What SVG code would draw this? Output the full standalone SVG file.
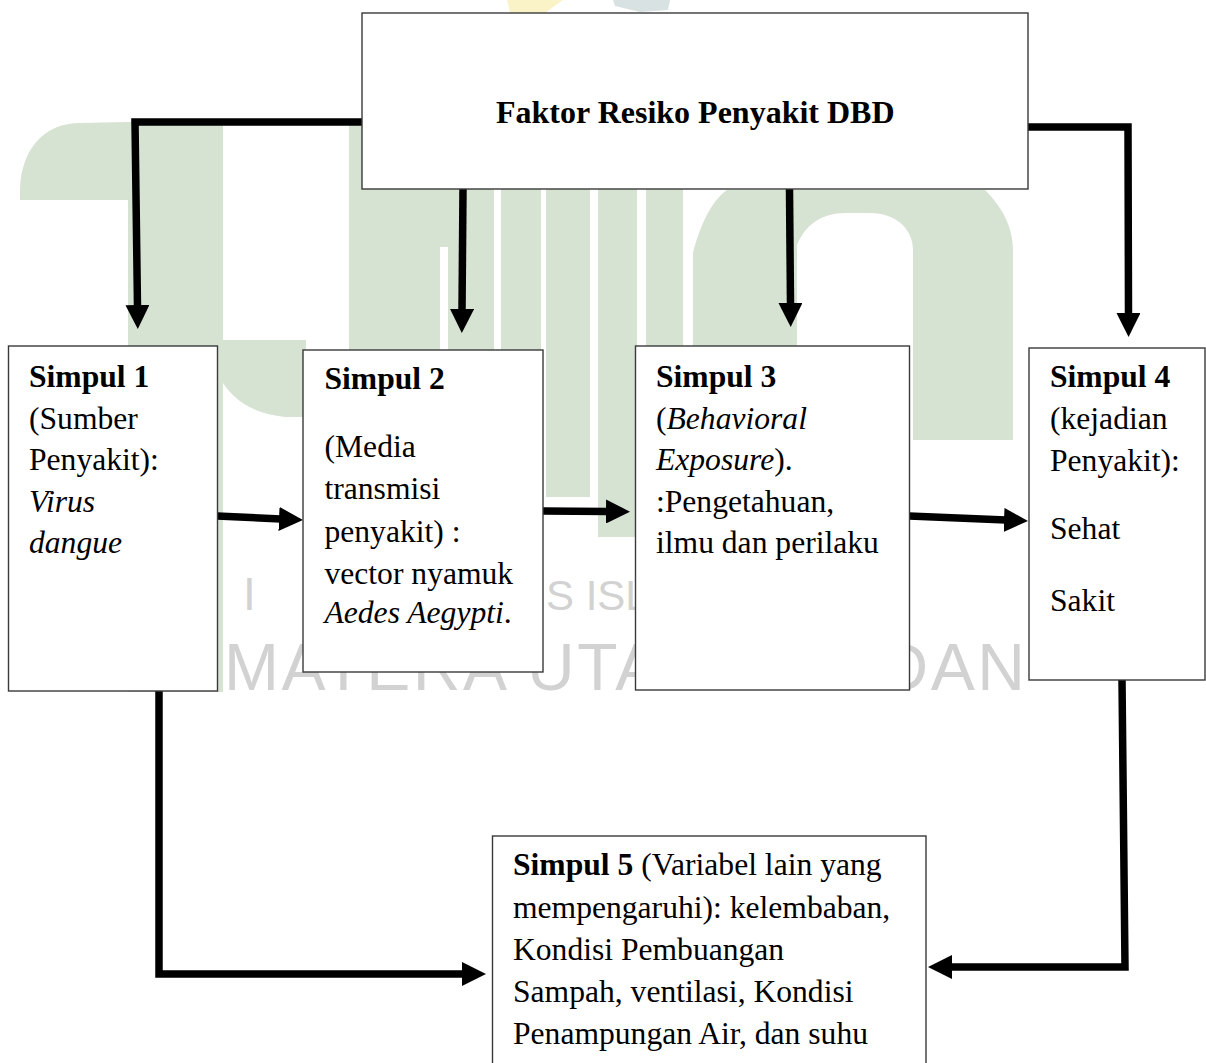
<svg xmlns="http://www.w3.org/2000/svg" width="1206" height="1063" viewBox="0 0 1206 1063">
<style>
.wm{fill:#d6e3d3;stroke:none}
.wmt{font-family:"Liberation Sans",Arial,sans-serif;fill:#d2d2d2}
.box{fill:#ffffff;stroke:#3a3a3a;stroke-width:1.4}
.t{font-family:"Liberation Serif","Times New Roman",serif;font-size:31.6px;fill:#000}
.b{font-weight:bold}
.i{font-style:italic}
.title{font-family:"Liberation Serif","Times New Roman",serif;font-size:32px;font-weight:bold;fill:#000}
.con{fill:none;stroke:#000;stroke-width:7.5;stroke-linejoin:miter;stroke-linecap:butt}
</style>
<defs>
<marker id="ah" markerUnits="userSpaceOnUse" markerWidth="24" markerHeight="24" refX="2" refY="12" orient="auto">
<path d="M0,0 L24,12 L0,24 Z" fill="#000"/>
</marker>
</defs>
<rect width="1206" height="1063" fill="#ffffff"/>
<g id="watermark">
<path class="wm" d="M20,200 L20,188 C22,148 45,123 80,123 L128,122 L128,200 Z"/>
<rect class="wm" x="128" y="122" width="95" height="570"/>
<path class="wm" d="M217,340 L306,340 L306,417 L285,417 Q235,412 217,372 Z"/>
<rect class="wm" x="349" y="122" width="91" height="300"/>
<rect class="wm" x="440" y="189" width="8" height="58"/>
<rect class="wm" x="448" y="189" width="46" height="220"/>
<rect class="wm" x="501" y="189" width="40" height="220"/>
<rect class="wm" x="546" y="189" width="44" height="308"/>
<rect class="wm" x="598" y="189" width="39" height="348"/>
<rect class="wm" x="646" y="189" width="37" height="300"/>
<path class="wm" d="M693,690 L693,253 C700,225 712,200 727,190 L985,190 C1000,205 1013,225 1013,250 L1013,440 L913,440 L913,250 C913,228 895,213 870,213 L845,213 C822,213 805,225 797,245 L797,690 Z"/>
<path d="M507,0 L563,0 L545,13 L510,13 Z" fill="#fbf3c8"/>
<path d="M613,0 L670,0 L668,10 L640,12 L615,6 Z" fill="#d9e2e2"/>
<text class="wmt" x="243" y="610" font-size="46">I</text>
<text class="wmt" x="546" y="610" font-size="42">S ISLAM NEGERI</text>
<text class="wmt" x="127" y="690" font-size="66" textLength="898" lengthAdjust="spacing">SUMATERA UTARA MEDAN</text>
</g>
<g id="connectors">
<polyline class="con" points="362,122 135,122 137.5,307" marker-end="url(#ah)"/>
<polyline class="con" points="463,189 462,311" marker-end="url(#ah)"/>
<polyline class="con" points="789.5,189 790.5,305" marker-end="url(#ah)"/>
<polyline class="con" points="1028,127 1128,127 1128.5,315" marker-end="url(#ah)"/>
<polyline class="con" points="217,516 281,519" marker-end="url(#ah)"/>
<polyline class="con" points="543,511 608,511.5" marker-end="url(#ah)"/>
<polyline class="con" points="909,516 1006,520" marker-end="url(#ah)"/>
<polyline class="con" points="159,691 159,974 464,974" marker-end="url(#ah)"/>
<polyline class="con" points="1122,680 1125,967 950,967" marker-end="url(#ah)"/>
</g>
<g id="faktor">
<rect class="box" x="362" y="13" width="666" height="176"/>
<text class="title" x="496" y="123">Faktor Resiko Penyakit DBD</text>
</g>
<g id="simpul1">
<rect class="box" x="8.5" y="346" width="209" height="345"/>
<text class="t b" x="29" y="387">Simpul 1</text>
<text class="t" x="29" y="428.5">(Sumber</text>
<text class="t" x="29" y="470">Penyakit):</text>
<text class="t i" x="29" y="511.5">Virus</text>
<text class="t i" x="29" y="553">dangue</text>
</g>
<g id="simpul2">
<rect class="box" x="303" y="350" width="240" height="322"/>
<text class="t b" x="324.5" y="389">Simpul 2</text>
<text class="t" x="324.5" y="457">(Media</text>
<text class="t" x="324.5" y="498.5">transmisi</text>
<text class="t" x="324.5" y="541.5">penyakit) :</text>
<text class="t" x="324.5" y="584">vector nyamuk</text>
<text class="t" x="324.5" y="622.5"><tspan class="i">Aedes Aegypti</tspan>.</text>
</g>
<g id="simpul3">
<rect class="box" x="635.5" y="346" width="274" height="344"/>
<text class="t b" x="656" y="387">Simpul 3</text>
<text class="t" x="656" y="428.5">(<tspan class="i">Behavioral</tspan></text>
<text class="t" x="656" y="470"><tspan class="i">Exposure</tspan>).</text>
<text class="t" x="656" y="511.5">:Pengetahuan,</text>
<text class="t" x="656" y="553">ilmu dan perilaku</text>
</g>
<g id="simpul4">
<rect class="box" x="1029" y="348" width="176" height="332"/>
<text class="t b" x="1050" y="387">Simpul 4</text>
<text class="t" x="1050" y="429">(kejadian</text>
<text class="t" x="1050" y="471">Penyakit):</text>
<text class="t" x="1050" y="539">Sehat</text>
<text class="t" x="1050" y="611">Sakit</text>
</g>
<g id="simpul5">
<rect class="box" x="492.5" y="836" width="433.5" height="240"/>
<text class="t" x="513" y="875"><tspan class="b">Simpul 5</tspan> (Variabel lain yang</text>
<text class="t" x="513" y="918">mempengaruhi): kelembaban,</text>
<text class="t" x="513" y="959.5">Kondisi Pembuangan</text>
<text class="t" x="513" y="1001.5">Sampah, ventilasi, Kondisi</text>
<text class="t" x="513" y="1043.5">Penampungan Air, dan suhu</text>
</g>
</svg>
